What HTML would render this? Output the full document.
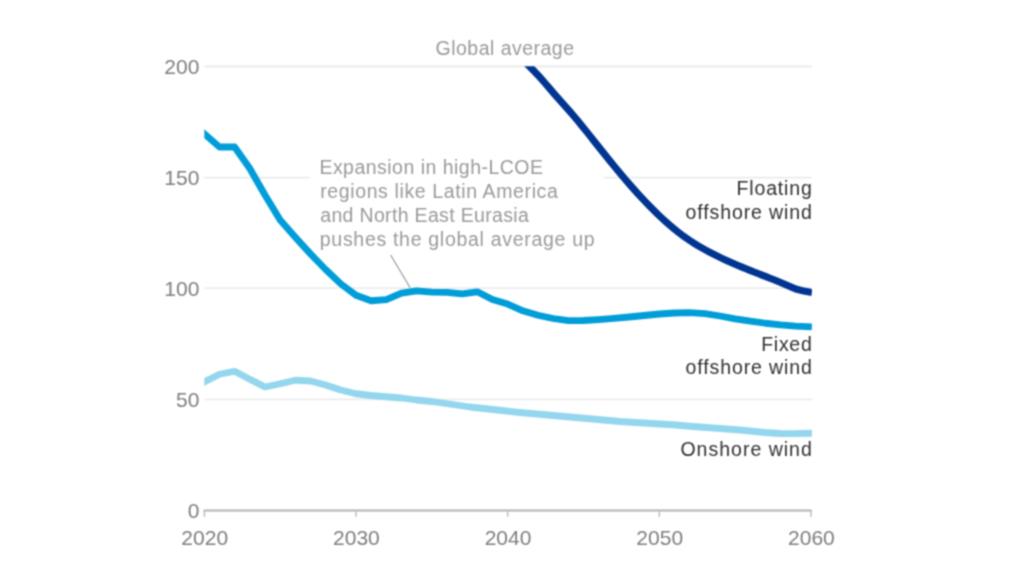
<!DOCTYPE html>
<html lang="en"><head><meta charset="utf-8"><title>Levelized cost of energy - wind</title>
<style>
html,body{margin:0;padding:0;background:#fff;}
body{width:1024px;height:576px;overflow:hidden;}
svg{display:block;}
text{font-family:"Liberation Sans",sans-serif;}
</style></head><body>
<svg width="1024" height="576" viewBox="0 0 1024 576">
<defs><clipPath id="plot"><rect x="204.3" y="66.3" width="607.6" height="450"/></clipPath>
<filter id="soft" x="0" y="0" width="1024" height="576" filterUnits="userSpaceOnUse" color-interpolation-filters="sRGB">
<feConvolveMatrix order="3" kernelMatrix="0.05 0.13 0.05 0.13 0.28 0.13 0.05 0.13 0.05" divisor="1" edgeMode="duplicate" preserveAlpha="false"/>
</filter></defs>
<g filter="url(#soft)">
<rect width="1024" height="576" fill="#fff"/>
<line x1="204.5" x2="812" y1="66.5" y2="66.5" stroke="#ececec" stroke-width="1.8"/>
<line x1="204.5" x2="812" y1="177.7" y2="177.7" stroke="#ececec" stroke-width="1.8"/>
<line x1="204.5" x2="812" y1="288.2" y2="288.2" stroke="#ececec" stroke-width="1.8"/>
<line x1="204.5" x2="812" y1="399.4" y2="399.4" stroke="#ececec" stroke-width="1.8"/>
<rect x="310" y="150" width="294.5" height="104" fill="#fff"/>
<line x1="203.6" x2="811.8" y1="510.4" y2="510.4" stroke="#b4b4b4" stroke-width="2"/>
<line x1="204.40" x2="204.40" y1="510.4" y2="516.8" stroke="#bdbdbd" stroke-width="1.5"/>
<line x1="811.00" x2="811.00" y1="510.4" y2="516.8" stroke="#bdbdbd" stroke-width="1.5"/>
<line x1="355.98" x2="355.98" y1="510.4" y2="516.8" stroke="#bdbdbd" stroke-width="1.5"/>
<line x1="507.65" x2="507.65" y1="510.4" y2="516.8" stroke="#bdbdbd" stroke-width="1.5"/>
<line x1="659.33" x2="659.33" y1="510.4" y2="516.8" stroke="#bdbdbd" stroke-width="1.5"/>
<text x="199.4" y="73.8" text-anchor="end" font-size="21.0" fill="#7e7e7e" textLength="35.2" lengthAdjust="spacing">200</text>
<text x="199.4" y="185.0" text-anchor="end" font-size="21.0" fill="#7e7e7e" textLength="35.2" lengthAdjust="spacing">150</text>
<text x="199.4" y="295.5" text-anchor="end" font-size="21.0" fill="#7e7e7e" textLength="35.2" lengthAdjust="spacing">100</text>
<text x="199.4" y="406.7" text-anchor="end" font-size="21.0" fill="#7e7e7e" textLength="23.5" lengthAdjust="spacing">50</text>
<text x="199.4" y="517.7" text-anchor="end" font-size="21.0" fill="#7e7e7e" textLength="11.8" lengthAdjust="spacing">0</text>
<text x="204.70" y="545.0" text-anchor="middle" font-size="21.0" fill="#7e7e7e" textLength="46.8" lengthAdjust="spacing">2020</text>
<text x="356.38" y="545.0" text-anchor="middle" font-size="21.0" fill="#7e7e7e" textLength="46.8" lengthAdjust="spacing">2030</text>
<text x="508.05" y="545.0" text-anchor="middle" font-size="21.0" fill="#7e7e7e" textLength="46.8" lengthAdjust="spacing">2040</text>
<text x="659.73" y="545.0" text-anchor="middle" font-size="21.0" fill="#7e7e7e" textLength="46.8" lengthAdjust="spacing">2050</text>
<text x="811.40" y="545.0" text-anchor="middle" font-size="21.0" fill="#7e7e7e" textLength="46.8" lengthAdjust="spacing">2060</text>
<g clip-path="url(#plot)" fill="none" stroke-linejoin="round" stroke-linecap="butt">
<polyline points="189.13,389.70 204.30,382.00 219.47,374.25 234.64,371.25 249.80,379.25 264.97,387.00 280.14,383.75 295.31,380.25 310.47,381.00 325.64,385.00 340.81,390.00 355.98,393.75 371.14,395.50 386.31,396.75 401.48,398.00 416.64,400.00 431.81,401.50 470.00,407.00 520.00,412.50 570.00,417.00 620.00,421.50 676.00,425.00 690.00,426.25 740.00,430.00 765.00,432.50 780.00,433.50 795.00,433.60 812.00,433.25" stroke="#93D6EE" stroke-width="6.8"/>
<polyline points="189.13,120.50 204.30,133.75 219.47,147.00 234.64,147.00 249.80,168.50 264.97,195.00 280.14,220.00 295.31,237.30 310.47,253.90 325.64,269.50 340.81,283.90 355.98,295.25 371.14,300.75 386.31,299.60 401.48,293.20 416.64,290.90 431.81,292.20 446.98,292.40 462.15,293.90 477.31,291.80 492.48,299.50 507.65,304.10 522.82,310.80 537.99,315.20 553.15,318.50 568.32,320.70 583.49,320.50 598.65,319.60 613.82,318.40 628.99,317.00 644.16,315.50 659.33,314.00 674.49,313.00 689.66,312.70 704.83,313.70 720.00,316.00 735.16,318.80 750.33,321.20 765.50,323.25 780.66,324.90 795.83,326.10 812.00,326.80" stroke="#009DD9" stroke-width="6.8"/>
<polyline points="518.00,55.32 522.00,59.10 526.00,62.95 530.00,66.90 534.00,70.97 538.00,75.20 542.00,79.63 546.00,84.22 550.00,88.91 554.00,93.59 558.00,98.16 562.00,102.63 566.00,107.07 570.00,111.58 574.00,116.23 578.00,121.02 582.00,125.92 586.00,130.89 590.00,135.91 594.00,140.94 598.00,145.98 602.00,151.00 606.00,155.99 610.00,160.95 614.00,165.87 618.00,170.73 622.00,175.52 626.00,180.23 630.00,184.87 634.00,189.41 638.00,193.85 642.00,198.20 646.00,202.43 650.00,206.56 654.00,210.58 658.00,214.48 662.00,218.25 666.00,221.90 670.00,225.40 674.00,228.76 678.00,231.96 682.00,235.01 686.00,237.89 690.00,240.63 694.00,243.21 698.00,245.67 702.00,248.01 706.00,250.24 710.00,252.39 714.00,254.45 718.00,256.43 722.00,258.35 726.00,260.21 730.00,262.01 734.00,263.76 738.00,265.46 742.00,267.13 746.00,268.77 750.00,270.38 754.00,271.97 758.00,273.55 762.00,275.11 766.00,276.67 770.00,278.22 774.00,279.77 780.60,282.50 795.80,289.00 804.00,291.10 812.00,292.60" stroke="#003591" stroke-width="7.1"/>
</g>
<line x1="390.6" y1="255" x2="410" y2="287.5" stroke="#9a9a9a" stroke-width="1.2"/>
<text x="435.6" y="54.6" font-size="19.5" fill="#9a9a9a" text-anchor="start" textLength="138.4" lengthAdjust="spacing">Global average</text>
<text x="319.4" y="174.1" font-size="19.5" fill="#9a9a9a" text-anchor="start" textLength="223.6" lengthAdjust="spacing">Expansion in high-LCOE</text>
<text x="320.2" y="197.9" font-size="19.5" fill="#9a9a9a" text-anchor="start" textLength="237.6" lengthAdjust="spacing">regions like Latin America</text>
<text x="320.2" y="221.7" font-size="19.5" fill="#9a9a9a" text-anchor="start" textLength="208.6" lengthAdjust="spacing">and North East Eurasia</text>
<text x="319.8" y="245.5" font-size="19.5" fill="#9a9a9a" text-anchor="start" textLength="274.8" lengthAdjust="spacing">pushes the global average up</text>
<text x="811.8" y="194.7" font-size="19.5" fill="#303030" text-anchor="end" textLength="75.2" lengthAdjust="spacing">Floating</text>
<text x="811.8" y="218.9" font-size="19.5" fill="#303030" text-anchor="end" textLength="126.2" lengthAdjust="spacing">offshore wind</text>
<text x="811.8" y="351.0" font-size="19.5" fill="#303030" text-anchor="end" textLength="50.6" lengthAdjust="spacing">Fixed</text>
<text x="811.8" y="374.0" font-size="19.5" fill="#303030" text-anchor="end" textLength="126.2" lengthAdjust="spacing">offshore wind</text>
<text x="811.8" y="455.7" font-size="19.5" fill="#303030" text-anchor="end" textLength="131.4" lengthAdjust="spacing">Onshore wind</text>
</g>
</svg></body></html>
